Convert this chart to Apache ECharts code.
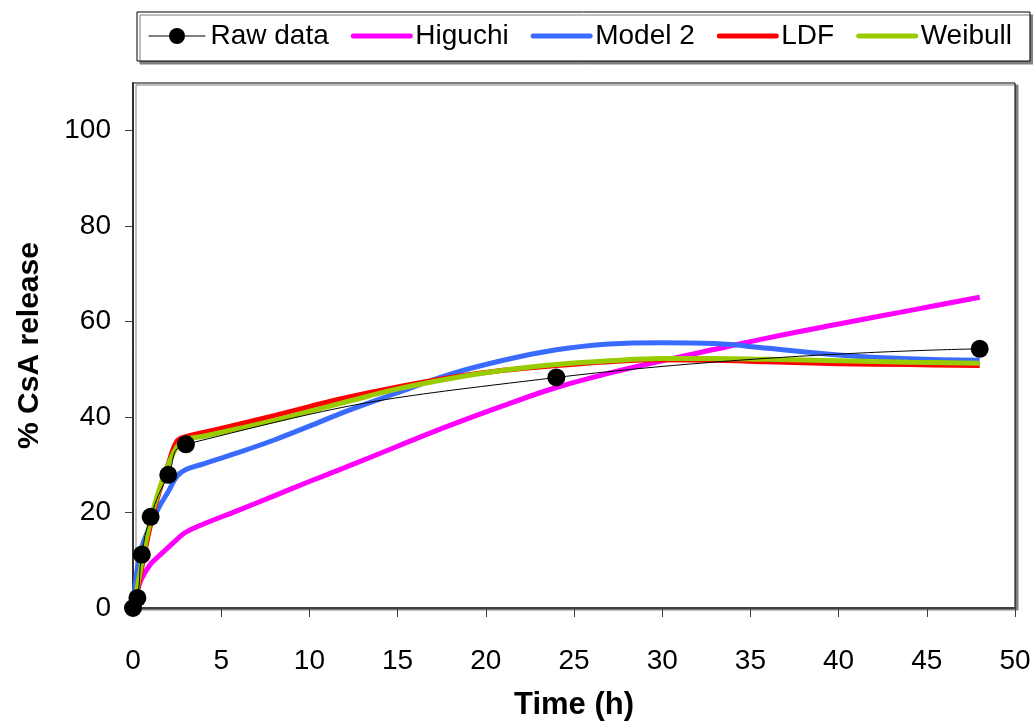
<!DOCTYPE html>
<html>
<head>
<meta charset="utf-8">
<script src="https://cdn.jsdelivr.net/npm/echarts@6/dist/echarts.min.js"></script>
<style>
  html, body { margin: 0; padding: 0; background: #fff; }
  #chart { width: 1033px; height: 722px; }
</style>
</head>
<body>
<div id="chart"></div>
<script>
// Measured sampling times (h) and raw % CsA release
const rawTimes = [0, 0.25, 0.5, 1, 2, 3, 24, 48];
const rawData  = [0, 2.1, 11.2, 19.1, 27.9, 34.3, 48.3, 54.3];

// Model curves
const modelTimes = [0, 0.25, 0.5, 1, 1.5, 2, 2.5, 3, 4, 6, 8, 10, 12, 15, 18, 21, 24, 27, 30, 33, 36, 40, 44, 48];
const higuchi = [0, 3.8, 6.2, 9.2, 11.0, 12.7, 14.4, 15.9, 17.6, 20.5, 23.5, 26.5, 29.4, 33.9, 38.3, 42.4, 46.2, 49.2, 51.8, 54.2, 56.6, 59.5, 62.3, 65.1];
const model2  = [0, 8.5, 12.8, 17.5, 21.3, 24.4, 27.6, 29.0, 30.2, 32.6, 35.2, 38.1, 41.1, 45.1, 49.0, 51.9, 54.1, 55.3, 55.6, 55.4, 54.4, 53.0, 52.2, 51.9];
const ldf     = [0, 3.5, 8.5, 17.5, 24.5, 30.2, 35.0, 35.9, 36.8, 38.5, 40.3, 42.2, 44.0, 46.3, 48.3, 49.8, 50.8, 51.6, 52.0, 51.9, 51.6, 51.2, 51.0, 50.8];
const weibull = [0, 4.5, 9.5, 18.5, 25.0, 30.0, 33.8, 35.3, 36.0, 37.6, 39.3, 41.2, 43.1, 45.9, 48.1, 49.8, 51.0, 51.8, 52.3, 52.3, 52.1, 51.8, 51.5, 51.3];

const seriesNames = ['Raw data', 'Higuchi', 'Model 2', 'LDF', 'Weibull'];
const xTicks = [0, 5, 10, 15, 20, 25, 30, 35, 40, 45, 50];
const yTicks = [0, 20, 40, 60, 80, 100];

const pair = (ts, arr) => ts.map((t, i) => [t, arr[i]]);
const FONT = '"Liberation Sans", Arial, sans-serif';

const chart = echarts.init(document.getElementById('chart'), null, { renderer: 'canvas' });

function modelSeries(name, arr, color, z) {
  return {
    name: name, type: 'line', data: pair(modelTimes, arr), smooth: 0.4,
    symbol: 'none', z: z,
    lineStyle: { color: color, width: 5 },
    itemStyle: { color: color },
    emphasis: { disabled: true }
  };
}

const legendData = seriesNames.map((n, i) => i === 0
  ? { name: n, lineStyle: { width: 1 } }
  : { name: n, itemStyle: { opacity: 0 }, lineStyle: { width: 5, cap: 'round' } });

chart.setOption({
  animation: false,
  backgroundColor: '#fff',
  textStyle: { fontFamily: FONT },
  legend: {
    data: legendData,
    left: 137, top: 12, width: 880,
    padding: [10, 18, 11, 11],
    itemWidth: 57, itemHeight: 20, itemGap: 22,
    borderColor: '#000', borderWidth: 1,
    backgroundColor: '#fff',
    shadowColor: '#808080', shadowOffsetX: 3, shadowOffsetY: 3, shadowBlur: 0,
    textStyle: { fontFamily: FONT, fontSize: 28, color: '#000' }
  },
  grid: {
    left: 133, right: 18, top: 83, bottom: 114,
    outerBoundsMode: 'none', containLabel: false,
    show: true, backgroundColor: '#fff',
    borderColor: '#000', borderWidth: 1,
    shadowColor: '#808080', shadowOffsetX: 3, shadowOffsetY: 2, shadowBlur: 0
  },
  xAxis: {
    type: 'value', min: xTicks[0], max: xTicks[xTicks.length - 1], interval: 5,
    name: 'Time (h)', nameLocation: 'middle', nameGap: 82,
    nameTextStyle: { fontFamily: FONT, fontSize: 31, fontWeight: 'bold', color: '#000' },
    axisLine: { show: true, onZero: false, lineStyle: { color: '#404040', width: 2 } },
    axisTick: { show: true, inside: false, length: 9, lineStyle: { color: '#404040', width: 1 } },
    axisLabel: {
      fontFamily: FONT, fontSize: 28, color: '#000', margin: 39,
      formatter: v => (xTicks.indexOf(v) >= 0 ? String(v) : '')
    },
    splitLine: { show: false }
  },
  yAxis: {
    type: 'value', min: 0, max: 110, interval: 20,
    name: '% CsA release', nameLocation: 'middle', nameGap: 88,
    nameTextStyle: { fontFamily: FONT, fontSize: 30, fontWeight: 'bold', color: '#000' },
    axisLine: { show: true, onZero: false, lineStyle: { color: '#303030', width: 2 } },
    axisTick: { show: true, inside: false, length: 8, lineStyle: { color: '#404040', width: 1 } },
    axisLabel: {
      fontFamily: FONT, fontSize: 28, color: '#000', margin: 22, showMaxLabel: false,
      formatter: v => (yTicks.indexOf(v) >= 0 ? String(v) : '')
    },
    splitLine: { show: false }
  },
  series: [
    {
      name: seriesNames[0], type: 'line', data: pair(rawTimes, rawData), smooth: 0.5,
      symbol: 'circle', symbolSize: 18, z: 10,
      lineStyle: { color: '#000', width: 1 },
      itemStyle: { color: '#000' },
      emphasis: { disabled: true }
    },
    modelSeries(seriesNames[1], higuchi, '#FF00FF', 3),
    modelSeries(seriesNames[2], model2, '#3A6BFF', 4),
    modelSeries(seriesNames[3], ldf, '#FF0000', 5),
    modelSeries(seriesNames[4], weibull, '#99CC00', 6)
  ]
});
</script>
</body>
</html>
